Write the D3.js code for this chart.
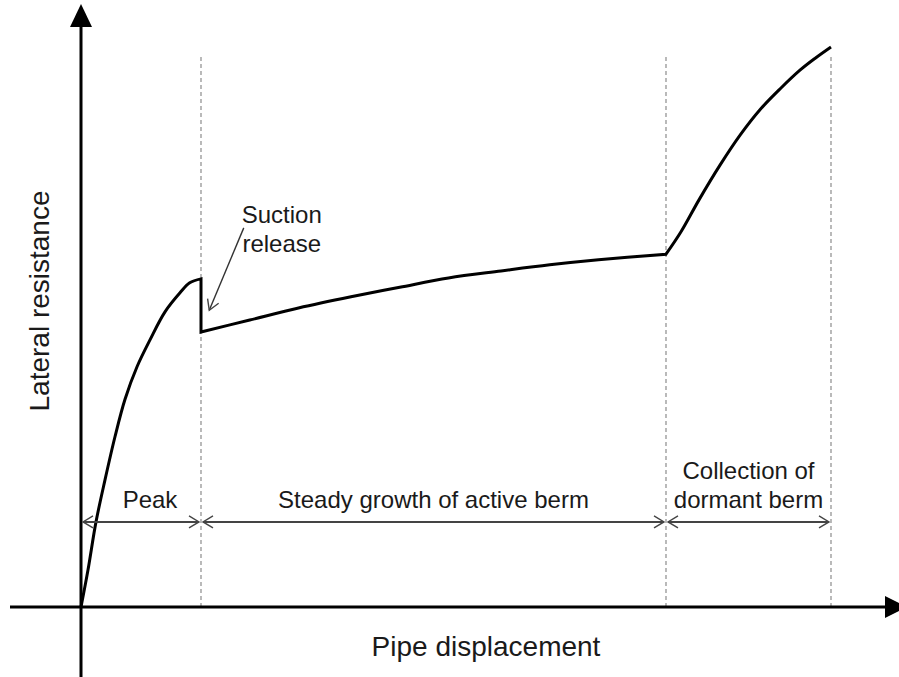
<!DOCTYPE html>
<meta charset="utf-8">
<style>
body { margin: 0; background: #fff; }
text { font-family: 'Liberation Sans', Arial, sans-serif; fill: #1a1a1a; }
</style>
<body>
<div class="viz"></div>
<script src="https://cdnjs.cloudflare.com/ajax/libs/d3/7.8.5/d3.min.js"></script>
<script>
// curve (displacement, resistance), arbitrary units 0-100
const peakX = [0, 0.93, 2, 3.2, 4.53, 5.87, 7.47, 9.2, 11.2, 13.2, 14.5, 16];
const peakY = [0, 6.6, 15.2, 22.7, 30.4, 37.1, 42.9, 47.7, 52.7, 56.1, 57.9, 58.6];
const steadyX = [16, 22.5, 29, 36, 42.5, 49, 56, 62.5, 69, 78];
const steadyY = [49.1, 51.25, 53.4, 55.4, 57.1, 58.75, 60.0, 61.1, 62.0, 63.0];
const dormantX = [78, 80, 82.4, 85.2, 87.9, 90.5, 93.2, 95.9, 97.9, 100];
const dormantY = [63.0, 67.0, 72.7, 78.9, 84.3, 88.75, 92.5, 95.9, 98.0, 100];

// phases along the displacement axis
const phaseBounds = [0, 16, 78, 100];
const phaseNames = [["Peak"], ["Steady growth of active berm"], ["Collection of", "dormant berm"]];
const bandLevel = 15.2;      // height of the double arrows
const guideTop = 98.2;       // top of dashed guides

// "Suction release" callout
const calloutText = ["Suction", "release"];
const calloutFrom = [21.7, 67.7];
const calloutTo = [17.1, 53.0];

const W = 899, H = 677;

const x = d3.scaleLinear().domain([0, 100]).range([81, 831]);
const y = d3.scaleLinear().domain([0, 100]).range([607, 47]);

const svg = d3.select(".viz").append("svg")
    .attr("width", W)
    .attr("height", H);

const defs = svg.append("defs");
defs.append("marker")
    .attr("id", "chev")
    .attr("viewBox", "-11 -7 13 14")
    .attr("refX", 0)
    .attr("refY", 0)
    .attr("markerWidth", 13)
    .attr("markerHeight", 14)
    .attr("markerUnits", "userSpaceOnUse")
    .attr("orient", "auto-start-reverse")
  .append("path")
    .attr("d", "M-10,-6L0,0L-10,6")
    .attr("fill", "none")
    .attr("stroke", "#444")
    .attr("stroke-width", 1.4);

// dashed guides
svg.selectAll(".guide")
    .data(phaseBounds.slice(1))
    .enter().append("line")
    .attr("class", "guide")
    .attr("x1", d => x(d)).attr("x2", d => x(d))
    .attr("y1", y(guideTop)).attr("y2", y(0))
    .attr("stroke", "#8c8c8c")
    .attr("stroke-width", 1.2)
    .attr("stroke-dasharray", "4,3");

// axes with arrow heads
svg.append("line")
    .attr("x1", 10).attr("x2", 885)
    .attr("y1", y(0)).attr("y2", y(0))
    .attr("stroke", "#000").attr("stroke-width", 3);
svg.append("path")
    .attr("d", `M885,${y(0) - 11}L907,${y(0)}L885,${y(0) + 11}Z`)
    .attr("fill", "#000");
svg.append("line")
    .attr("x1", x(0)).attr("x2", x(0))
    .attr("y1", H).attr("y2", 25)
    .attr("stroke", "#000").attr("stroke-width", 3);
svg.append("path")
    .attr("d", `M${x(0) - 11},27L${x(0)},4L${x(0) + 11},27Z`)
    .attr("fill", "#000");

// response curve
const line = d3.line()
    .x(d => x(d[0]))
    .y(d => y(d[1]))
    .curve(d3.curveCatmullRom.alpha(0.5));

const seg1 = line(d3.zip(peakX, peakY));
const seg2 = line(d3.zip(steadyX, steadyY)).replace(/^M/, "L");
const seg3 = line(d3.zip(dormantX, dormantY)).replace(/^M/, "L");

svg.append("path")
    .attr("d", seg1 + seg2 + seg3)
    .attr("fill", "none")
    .attr("stroke", "#000")
    .attr("stroke-width", 3)
    .attr("stroke-linejoin", "miter");

// double arrows for phases
svg.selectAll(".band")
    .data(d3.range(phaseNames.length))
    .enter().append("line")
    .attr("class", "band")
    .attr("x1", i => x(phaseBounds[i]) + 2)
    .attr("x2", i => x(phaseBounds[i + 1]) - 2)
    .attr("y1", y(bandLevel)).attr("y2", y(bandLevel))
    .attr("stroke", "#444")
    .attr("stroke-width", 2)
    .attr("marker-start", "url(#chev)")
    .attr("marker-end", "url(#chev)");

const labelX = i => (x(phaseBounds[i]) + x(phaseBounds[i + 1])) / 2 + (i === 0 ? 9 : 0);

const labels = svg.selectAll(".phase")
    .data(d3.range(phaseNames.length))
    .enter().append("text")
    .attr("class", "phase")
    .attr("text-anchor", "middle")
    .style("font-size", "24px")
    .attr("y", i => y(bandLevel) - 14 - (phaseNames[i].length - 1) * 29);
labels.selectAll("tspan")
    .data(i => phaseNames[i].map(s => ({ s, i })))
    .enter().append("tspan")
    .attr("x", d => labelX(d.i))
    .attr("dy", (d, j) => j === 0 ? 0 : 29)
    .text(d => d.s);

// callout
svg.append("line")
    .attr("x1", x(calloutFrom[0])).attr("y1", y(calloutFrom[1]))
    .attr("x2", x(calloutTo[0])).attr("y2", y(calloutTo[1]))
    .attr("stroke", "#333")
    .attr("stroke-width", 1.4)
    .attr("marker-end", "url(#chev)");

svg.append("text")
    .attr("text-anchor", "middle")
    .style("font-size", "24px")
    .selectAll("tspan")
    .data(calloutText)
    .enter().append("tspan")
    .attr("x", x(calloutFrom[0]) + 38)
    .attr("y", (d, i) => y(calloutFrom[1]) - 5 + i * 29)
    .text(d => d);

// axis titles
svg.append("text")
    .attr("text-anchor", "middle")
    .style("font-size", "28px")
    .attr("transform", "translate(49,301) rotate(-90)")
    .text("Lateral resistance");

svg.append("text")
    .attr("text-anchor", "middle")
    .style("font-size", "28px")
    .attr("x", 486)
    .attr("y", 656)
    .text("Pipe displacement");
</script>
</body>
